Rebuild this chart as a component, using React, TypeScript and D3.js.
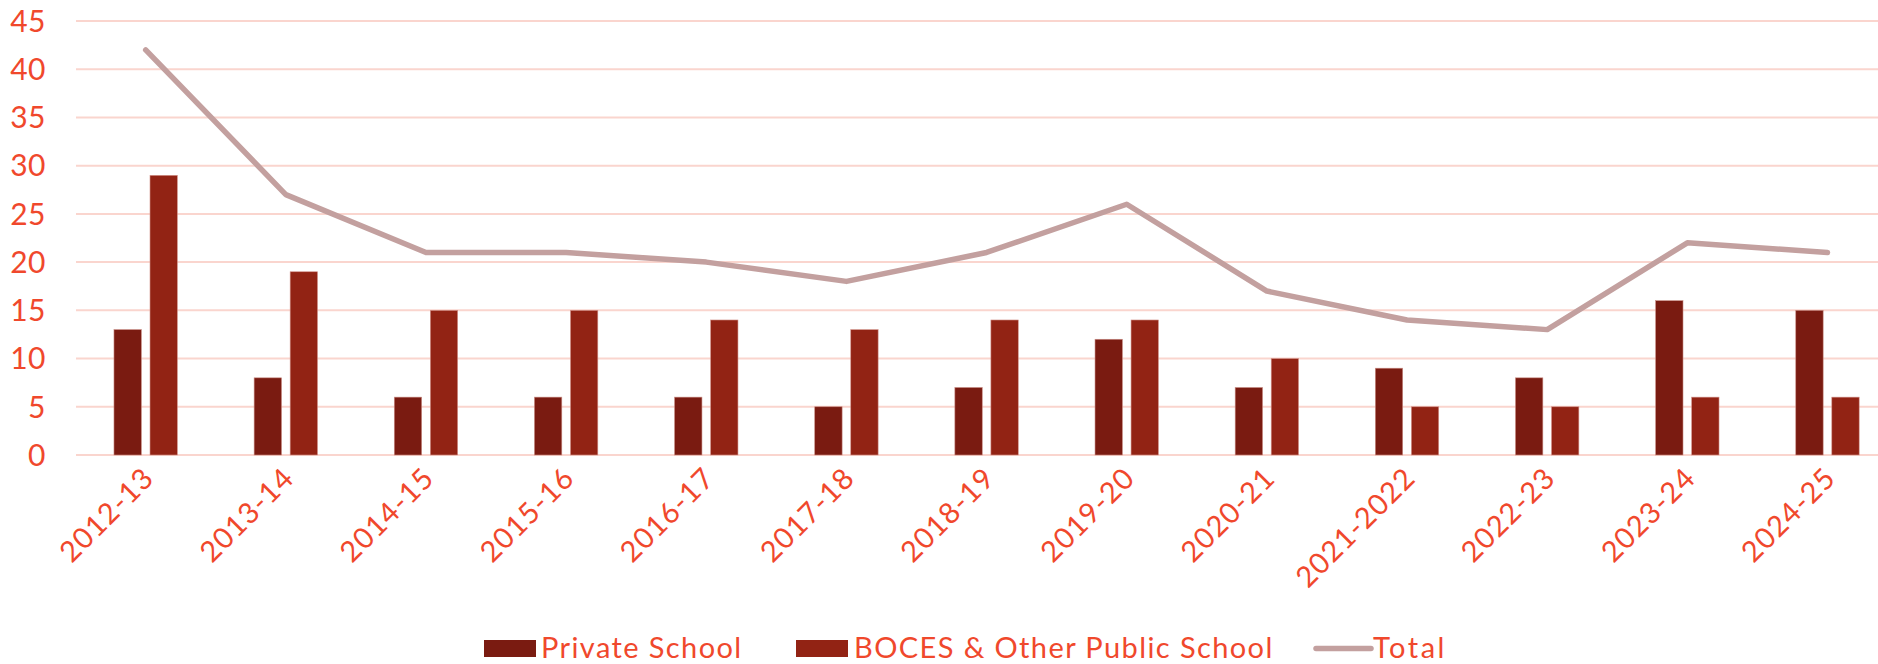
import React from "react";
import * as d3 from "d3";

const categories = ["2012-13", "2013-14", "2014-15", "2015-16", "2016-17", "2017-18", "2018-19", "2019-20", "2020-21", "2021-2022", "2022-23", "2023-24", "2024-25"];
const privateSchool = [13, 8, 6, 6, 6, 5, 7, 12, 7, 9, 8, 16, 15];
const bocesPublic = [29, 19, 15, 15, 14, 13, 14, 14, 10, 5, 5, 6, 6];
const total = [42, 27, 21, 21, 20, 18, 21, 26, 17, 14, 13, 22, 21];
const yTicks = [0, 5, 10, 15, 20, 25, 30, 35, 40, 45];
const seriesNames = ["Private School", "BOCES & Other Public School", "Total"];

const W = 1878;
const H = 664;
const TEXT = "#F0482C";
const C_PRIV = "#7A1B11";
const C_BOCES = "#922314";
const C_TOTAL = "#C3A09F";
const GRID = "#FAD5CE";
const FONT = "Lato, 'Open Sans', sans-serif";

export default function App() {
  const x = d3.scaleBand<string>().domain(categories).range([75.6, 75.6 + 13 * 140.15]).padding(0);
  const inner = d3.scaleBand<string>().domain(["p", "b"]).range([0, 63.4]).paddingInner(0.24);
  const y = d3.scaleLinear().domain([0, 45]).range([455, 21]);
  const cx = (c: string) => (x(c) as number) + x.bandwidth() / 2;
  const line = d3
    .line<number>()
    .x((_, i) => cx(categories[i]))
    .y((d) => y(d));

  return (
    <svg width={W} height={H} style={{ position: "absolute", left: 0, top: 0, background: "#fff" }} fontFamily={FONT}>
      {yTicks.map((t) => (
        <g key={t}>
          <line x1={76} x2={W} y1={y(t)} y2={y(t)} stroke={GRID} strokeWidth={2} />
          <text x={46} y={y(t)} dy="0.36em" textAnchor="end" fill={TEXT} fontSize={30} letterSpacing={0.5}>
            {t}
          </text>
        </g>
      ))}
      {categories.map((c, i) => {
        const left = cx(c) - 31.7;
        return (
          <g key={c}>
            <rect x={left + (inner("p") as number)} y={y(privateSchool[i])} width={inner.bandwidth()} height={y(0) - y(privateSchool[i])} fill={C_PRIV} stroke="#C98C84" strokeWidth={0.6} />
            <rect x={left + (inner("b") as number)} y={y(bocesPublic[i])} width={inner.bandwidth()} height={y(0) - y(bocesPublic[i])} fill={C_BOCES} stroke="#D4968E" strokeWidth={0.6} />
            <text transform={`translate(${cx(c) + 10},${480}) rotate(-45)`} textAnchor="end" fill={TEXT} fontSize={29} letterSpacing={1}>
              {c}
            </text>
          </g>
        );
      })}
      <path d={line(total) || ""} fill="none" stroke={C_TOTAL} strokeWidth={5.5} strokeLinecap="round" strokeLinejoin="round" />
      <g fontSize={29} fill={TEXT} letterSpacing={1.4}>
        <rect x={484} y={640} width={52} height={17} fill={C_PRIV} />
        <text x={541} y={657.5}>{seriesNames[0]}</text>
        <rect x={796} y={640} width={52} height={17} fill={C_BOCES} />
        <text x={854} y={657.5}>{seriesNames[1]}</text>
        <line x1={1316} x2={1371} y1={648.5} y2={648.5} stroke={C_TOTAL} strokeWidth={5.5} strokeLinecap="round" />
        <text x={1373} y={657.5} letterSpacing={2.5}>{seriesNames[2]}</text>
      </g>
    </svg>
  );
}
